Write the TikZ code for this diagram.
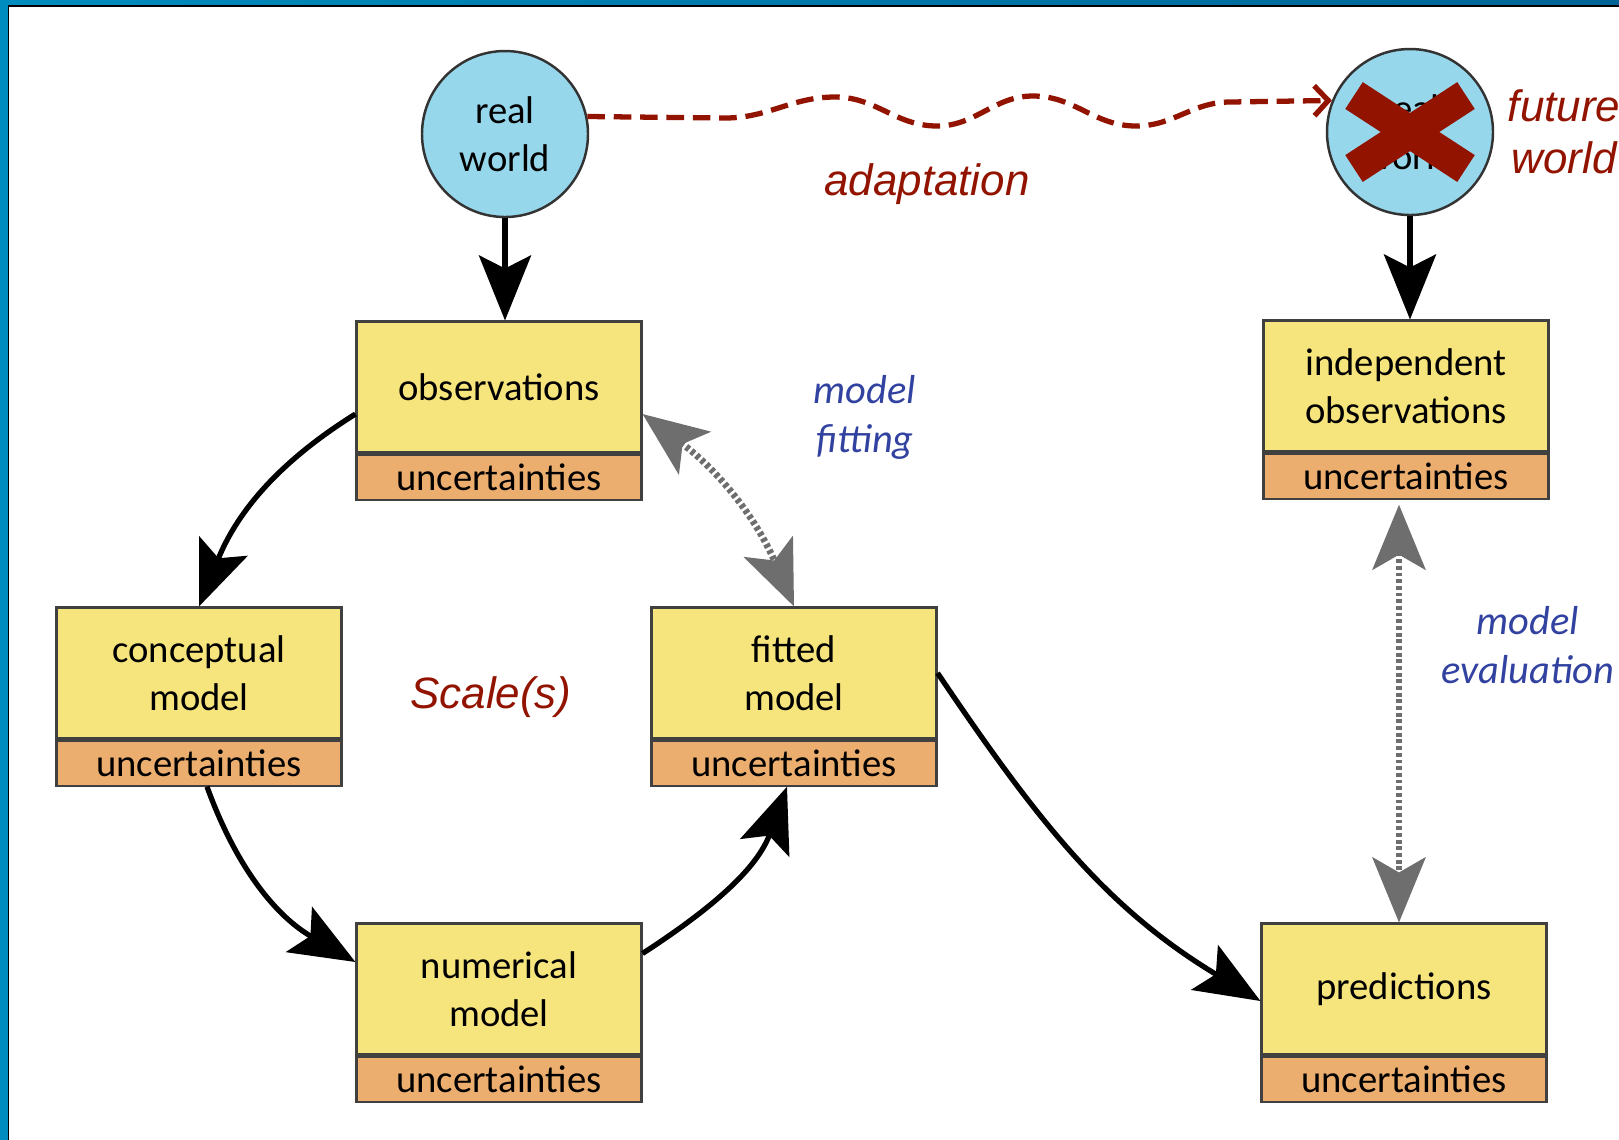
\documentclass[tikz,border=0pt]{standalone}
\usepackage{fontspec}
\setmainfont{Carlito}
\newfontfamily\arialfont{Liberation Sans}
\usetikzlibrary{positioning,arrows.meta}
\definecolor{boxyellow}{RGB}{246,228,124}
\definecolor{uncorange}{RGB}{236,174,110}
\definecolor{skyblue}{RGB}{151,215,236}
\definecolor{darkred}{RGB}{146,20,0}
\definecolor{labelblue}{RGB}{50,66,160}
\definecolor{arrowgray}{RGB}{110,110,110}
\definecolor{frameleft}{RGB}{0,140,190}
\definecolor{frameright}{RGB}{0,100,150}
\begin{document}
\begin{tikzpicture}[x=1cm, y=1cm,
    box/.style={draw=black!75, line width=0.6pt, fill=boxyellow, minimum width=2.85cm, minimum height=1.31cm,
      inner sep=0pt, align=center, font=\fontsize{11}{13.5}\selectfont},
    unc/.style={draw=black!75, line width=0.6pt, fill=uncorange, minimum width=2.85cm, minimum height=0.45cm,
      inner sep=0pt, font=\fontsize{11}{13.5}\selectfont},
    world/.style={circle, draw=black!80, line width=0.7pt, fill=skyblue, minimum size=1.66cm, inner sep=0pt,
      align=center, font=\fontsize{11}{13.6}\selectfont},
    flow/.style={line width=1.5pt, -{Stealth[length=6.5mm, width=5.2mm, inset=1.3mm]}},
    check/.style={arrowgray, line width=1.9pt, dash pattern=on 1.1pt off 0.8pt,
      {Stealth[length=6.5mm, width=5.3mm, inset=1.5mm]}-{Stealth[length=6.5mm, width=5.3mm, inset=1.5mm]}},
    adapt/.style={darkred, line width=1.5pt, dash pattern=on 5pt off 2.5pt,
      -{Straight Barb[length=1.4mm, width=3mm]}},
    cross/.style={darkred, line width=0.32cm},
    note/.style={text=darkred, align=center, font=\arialfont\itshape\fontsize{12.5}{14.8}\selectfont},
    task/.style={text=labelblue, align=center, font=\itshape\fontsize{11.5}{13.9}\selectfont}]

  \useasboundingbox (0,0) rectangle (16.19,-11.39);
  \shade[left color=frameleft, right color=frameright] (0,0) rectangle (16.19,-11.39);
  \filldraw[fill=white, draw=black, line width=0.5pt] (0.085,-0.058) rectangle (16.5,-11.6);

  \node[world] (realw) at (5.05,-1.34) {real\\world};
  \node[world] (futurew) at (14.10,-1.32) {real\\world};
  \draw[cross] ([shift={(-0.56,0.365)}]futurew.center) -- ([shift={(0.56,-0.365)}]futurew.center);
  \draw[cross] ([shift={(-0.56,-0.365)}]futurew.center) -- ([shift={(0.56,0.365)}]futurew.center);

  \node[box] (obs) at (4.99,-3.87) {observations};
  \node[unc, below=0pt of obs] (obsu) {uncertainties};
  \node[box] (concept) at (1.99,-6.73) {conceptual\\model};
  \node[unc, below=0pt of concept] (conceptu) {uncertainties};
  \node[box] (numer) at (4.99,-9.89) {numerical\\model};
  \node[unc, below=0pt of numer] (numeru) {uncertainties};
  \node[box] (fitted) at (7.94,-6.73) {fitted\\model};
  \node[unc, below=0pt of fitted] (fittedu) {uncertainties};
  \node[box] (indep) at (14.06,-3.86) {independent\\observations};
  \node[unc, below=0pt of indep] (indepu) {uncertainties};
  \node[box] (pred) at (14.04,-9.89) {predictions};
  \node[unc, below=0pt of pred] (predu) {uncertainties};

  \node[note] (adaptlbl) at (9.27,-1.84) {adaptation};
  \node[note] (futurelbl) at (15.64,-1.32) {future\\world};
  \node[note] (scalelbl) at (4.91,-6.97) {Scale(s)};
  \node[task] (fitlbl) at (8.65,-4.17) {model\\fitting};
  \node[task] (evallbl) at (15.28,-6.45) {model\\evaluation};

  \draw[flow] (realw) -- (realw |- obs.north);
  \draw[flow] (futurew) -- (futurew |- indep.north);
  \draw[flow] ([yshift=-0.27cm]obs.west) to[out=212, in=68] (concept.north);
  \draw[flow] ([xshift=0.08cm]conceptu.south) to[out=-70, in=150] ([yshift=0.27cm]numer.west);
  \draw[flow] ([yshift=-0.31cm]numer.north east) to[out=33, in=-110] ([xshift=-0.07cm]fittedu.south);
  \draw[flow] (fitted.east) to[out=-56, in=149] ([yshift=-0.12cm]pred.west);
  \draw[check] ([yshift=-0.27cm]obs.east) to[bend left=15] (fitted.north);
  \draw[check, shorten <=0.05cm] ([xshift=-0.07cm]indepu.south) -- ([xshift=-0.05cm]pred.north);
  \draw[adapt] (realw.12) -- (7.25,-1.18) to[out=0, in=180] (8.35,-0.97)
    to[out=0, in=180] (9.37,-1.26) to[out=0, in=180] (10.33,-0.96)
    to[out=0, in=180] (11.36,-1.26) to[out=0, in=180] (12.3,-1.02) -- (futurew.158);
\end{tikzpicture}
\end{document}
